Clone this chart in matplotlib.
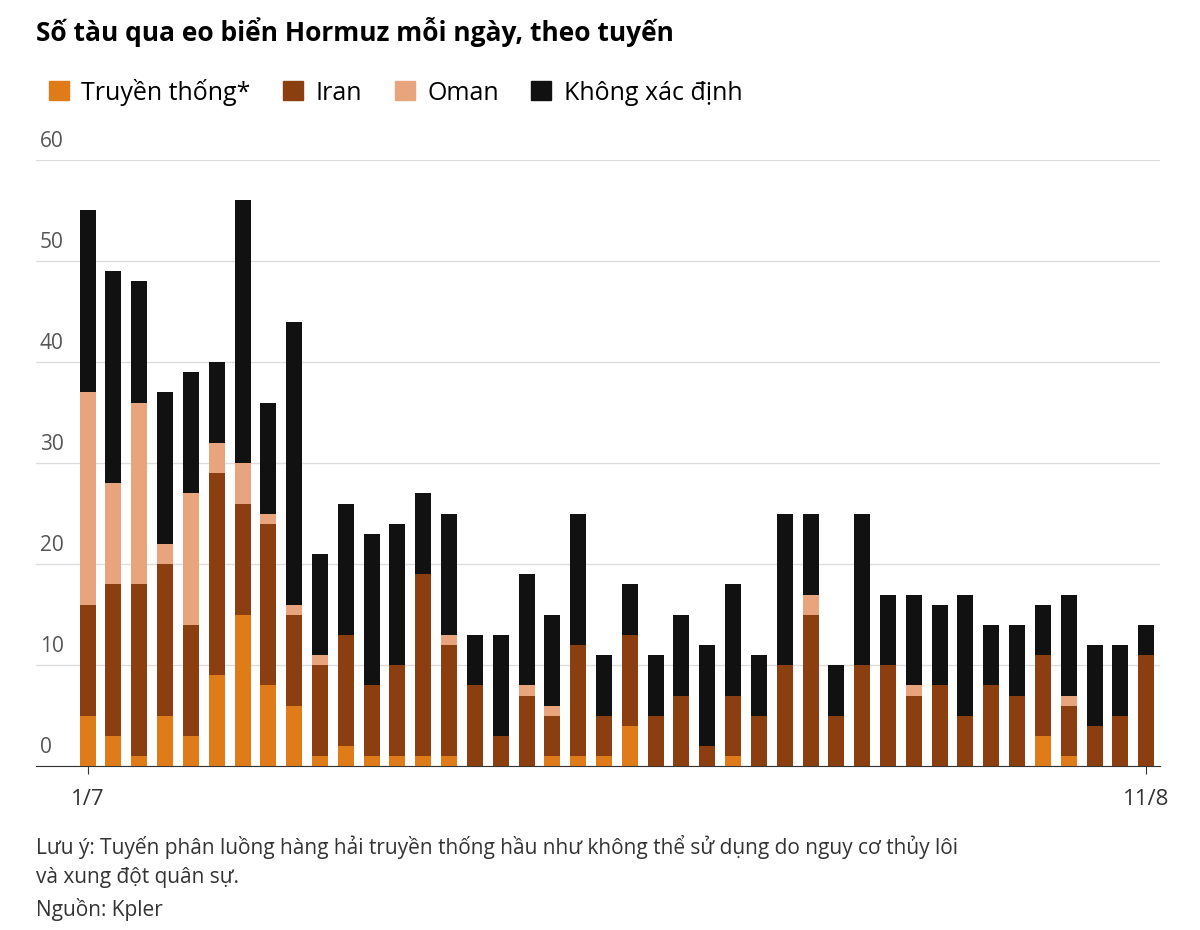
import numpy as np
import matplotlib.pyplot as plt

plt.rcParams['font.family'] = ['Open Sans', 'DejaVu Sans']

# cumulative boundaries (traditional, +Iran, +Oman, total)
trad_top = [5,3,1,5,3,9,15,8,6,1,2,1,1,1,1,0,0,0,1,1,1,4,0,0,0,1,0,0,0,0,0,0,0,0,0,0,0,3,1,0,0,0]
iran_top = [16,18,18,20,14,29,26,24,15,10,13,8,10,19,12,8,3,7,5,12,5,13,5,7,2,7,5,10,15,5,10,10,7,8,5,8,7,11,6,4,5,11]
oman_top = [37,28,36,22,27,32,30,25,16,11,13,8,10,19,13,8,3,8,6,12,5,13,5,7,2,7,5,10,17,5,10,10,8,8,5,8,7,11,7,4,5,11]
total = [55,49,48,37,39,40,56,36,44,21,26,23,24,27,25,13,13,19,15,25,11,18,11,15,12,18,11,25,25,10,25,17,17,16,17,14,14,16,17,12,12,14]

trad = np.array(trad_top)
iran = np.array(iran_top) - trad
oman = np.array(oman_top) - np.array(iran_top)
unk = np.array(total) - np.array(oman_top)

labels = ['Truyền thống*', 'Iran', 'Oman', 'Không xác định']
colors = ['#e07b1a', '#8b3e0f', '#e8a47c', '#111111']

fig = plt.figure(figsize=(12, 9.3), dpi=100)
ax = fig.add_axes([0.03, 0.176, 0.937, 0.652])
x = np.arange(len(total))
bottom = np.zeros(len(total))
for vals, c, lab in zip([trad, iran, oman, unk], colors, labels):
    ax.bar(x, vals, bottom=bottom, color=c, width=0.62, label=lab, zorder=3)
    bottom = bottom + vals

ax.set_ylim(0, 60)
ax.set_xlim(-2.0, len(total) - 0.45)
ax.set_yticks(range(0, 61, 10))
ax.grid(axis='y', color='#dddddd', lw=1, zorder=0)
ax.tick_params(axis='y', length=0, labelleft=False)
for v in range(0, 61, 10):
    ax.text(-1.85, v + 0.8, str(v), fontsize=15, color='#555555', va='bottom', ha='left')
for s in ['top', 'right', 'left']:
    ax.spines[s].set_visible(False)
ax.spines['bottom'].set_color('#333333')
ax.set_xticks([0, len(total) - 1])
ax.set_xticklabels(['1/7', '11/8'], fontsize=16, color='#333333')
ax.tick_params(axis='x', length=6, color='#333333', pad=10)

fig.text(0.03, 0.966, 'Số tàu qua eo biển Hormuz mỗi ngày, theo tuyến', fontsize=19,
         fontweight='bold', va='center')
handles = [plt.Rectangle((0, 0), 1, 1, color=c) for c in colors]
fig.legend(handles, labels, loc='center left', bbox_to_anchor=(0.022, 0.901), ncol=4,
           frameon=False, fontsize=18, handlelength=0.8, handleheight=0.8,
           handletextpad=0.5, columnspacing=1.3)
fig.text(0.03, 0.074, 'Lưu ý: Tuyến phân luồng hàng hải truyền thống hầu như không thể sử dụng do nguy cơ thủy lôi\nvà xung đột quân sự.',
         fontsize=15, color='#333333', va='center', linespacing=1.5)
fig.text(0.03, 0.022, 'Nguồn: Kpler', fontsize=15, color='#333333', va='center')
fig.savefig('out.png')
